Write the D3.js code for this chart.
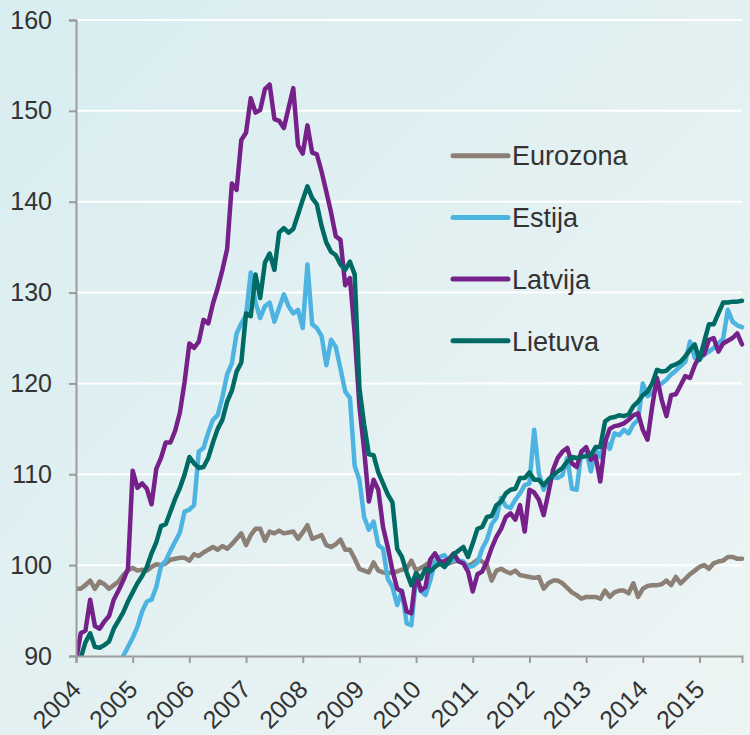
<!DOCTYPE html>
<html>
<head>
<meta charset="utf-8">
<script src="https://cdn.jsdelivr.net/npm/d3@7"></script>
<style>
  body { margin: 0; background: #e6f1f2; }
  svg { display: block; font-family: "Liberation Sans", Arial, sans-serif; }
</style>
</head>
<body>
<div id="chart"></div>
<script>
// monthly index values, first value = January 2004
var startYear = 2004;
var yearTicks = [2004, 2005, 2006, 2007, 2008, 2009, 2010, 2011, 2012, 2013, 2014, 2015];
var valueTicks = [90, 100, 110, 120, 130, 140, 150, 160];
var seriesNames = ["Eurozona", "Estija", "Latvija", "Lietuva"];
var seriesColors = ["#8c7f76", "#4db3e0", "#76218a", "#006a64"];

var eurozona = [
  97.4, 97.4, 97.8, 98.3, 97.4, 98.2, 97.9, 97.4, 97.8, 98.2, 98.9, 99.4,
  99.7, 99.4, 99.5, 99.4, 99.8, 100.1, 100.0, 100.2, 100.6, 100.7, 100.8, 100.8,
  100.5, 101.2, 101.0, 101.4, 101.7, 102.0, 101.7, 102.1, 101.8, 102.3, 102.9, 103.5,
  102.2, 103.3, 104.0, 104.0, 102.7, 103.7, 103.5, 103.8, 103.5, 103.6, 103.7, 102.9,
  103.6, 104.4, 102.9, 103.1, 103.3, 102.2, 102.0, 102.3, 102.8, 101.7, 101.7, 100.7,
  99.6, 99.4, 99.2, 100.3, 99.4, 99.2, 99.1, 99.2, 99.3, 99.5, 99.6, 100.5,
  99.4, 99.7, 100.0, 100.4, 100.2, 100.1, 100.3, 100.2, 100.4, 100.5, 100.3, 99.9,
  100.2, 100.6, 100.4, 100.0, 98.3, 99.4, 99.6, 99.3, 99.1, 99.4, 98.9, 98.8,
  98.7, 98.6, 98.7, 97.4, 98.0, 98.3, 98.3, 98.0, 97.5, 97.0, 96.7, 96.3,
  96.5, 96.5, 96.5, 96.3, 97.2, 96.5, 97.0, 97.2, 97.2, 96.9, 98.0, 96.5,
  97.4, 97.7, 97.8, 97.8, 97.9, 98.3, 97.8, 98.7, 98.0, 98.5, 99.0, 99.4,
  99.8, 100.0, 99.6, 100.2, 100.4, 100.5, 100.9, 100.9, 100.7, 100.7
];

var estija = [
  null, null, null, null, null, null, null, null, null, 89.0, 90.0, 91.0,
  92.0, 93.2, 94.9, 96.0, 96.2, 97.6, 99.9, 100.5, 101.6, 102.6, 103.6, 105.9,
  106.1, 106.6, 112.5, 112.9, 114.6, 116.0, 116.5, 118.5, 121.0, 122.2, 125.5, 126.6,
  127.5, 132.2, 128.9, 127.2, 128.5, 128.9, 126.8, 128.3, 129.8, 128.5, 127.7, 128.1,
  126.1, 133.1, 126.5, 126.1, 125.2, 122.0, 124.8, 124.0, 121.6, 119.1, 118.4, 110.9,
  109.4, 105.3, 103.9, 104.8, 102.2, 101.8, 98.5, 97.6, 95.6, 97.2, 93.6, 93.4,
  98.7, 97.2, 96.7, 98.3, 100.4, 100.9, 101.1, 100.3, 100.6, 100.5, 100.4, 99.8,
  99.9, 100.3, 101.8, 102.8, 104.5, 105.2, 107.4, 106.5, 106.3, 107.2, 107.9, 108.8,
  109.0, 114.9, 110.1, 108.3, 109.4, 109.7, 109.6, 109.9, 111.8, 108.4, 108.3, 112.5,
  112.7, 110.3, 112.7, 111.9, 113.8, 112.8, 114.5, 114.3, 114.9, 114.5, 115.5, 116.0,
  120.0, 118.6, 119.0, 119.6, 120.0, 120.4, 121.0, 121.4, 121.9, 122.4, 124.6, 122.8,
  122.6, 123.2, 123.5, 123.9, 124.4, 124.9, 128.1, 126.8, 126.4, 126.2
];

var latvija = [
  89.5, 92.5, 92.8, 96.2, 93.3, 93.0, 93.8, 94.4, 96.2, 97.2, 98.3, 99.6,
  110.4, 108.5, 109.0, 108.4, 106.7, 110.6, 111.8, 113.5, 113.5, 114.8, 116.8, 120.2,
  124.4, 123.9, 124.6, 127.0, 126.6, 128.8, 130.5, 132.5, 134.8, 142.0, 141.3, 146.8,
  147.6, 151.4, 149.8, 150.1, 152.4, 152.9, 149.1, 148.9, 148.1, 150.3, 152.5, 146.2,
  145.3, 148.4, 145.4, 145.2, 143.3, 141.1, 138.8, 136.2, 135.8, 130.8, 131.6, 125.5,
  117.5, 112.7, 107.0, 109.4, 108.3, 104.2, 102.0, 99.4, 97.4, 97.1, 94.9, 94.7,
  99.1, 97.2, 97.6, 100.6, 101.3, 100.4, 100.4, 100.7, 101.3, 100.4, 100.2, 99.3,
  97.1, 99.0, 99.3, 100.4, 101.9, 103.1, 104.0, 105.3, 105.7, 105.0, 106.6, 103.7,
  108.3, 108.0, 107.2, 105.5, 107.9, 110.5, 111.8, 112.5, 112.9, 111.2, 110.8, 112.5,
  113.0, 111.6, 112.0, 109.2, 113.5, 115.0, 115.3, 115.4, 115.6, 116.0, 116.5, 116.7,
  114.9, 113.8, 117.5, 120.6, 118.2, 116.4, 118.7, 118.8, 119.8, 120.8, 120.6, 122.0,
  123.0, 123.2, 124.8, 125.0, 123.5, 124.4, 124.7, 125.0, 125.5, 124.3
];

var lietuva = [
  88.5, 89.8, 91.5, 92.5, 91.0, 90.9, 91.2, 91.6, 93.0, 93.9, 94.8, 96.0,
  97.0, 98.0, 98.8, 99.8, 101.3, 102.5, 104.3, 104.5, 105.9, 107.3, 108.5, 110.0,
  111.9, 111.2, 110.7, 110.8, 111.8, 113.5, 115.0, 116.0, 118.0, 119.2, 121.3, 122.3,
  127.7, 127.4, 132.0, 129.4, 133.3, 134.3, 132.5, 136.6, 137.1, 136.6, 137.0, 138.6,
  140.2, 141.7, 140.4, 139.7, 137.3, 135.5, 134.5, 134.1, 133.1, 132.5, 133.4, 132.0,
  119.5, 115.5, 112.2, 112.1, 110.2, 109.0, 107.8, 106.9, 101.8, 100.9, 99.2, 97.8,
  99.1, 98.5, 99.6, 99.3, 99.8, 100.2, 99.8, 100.4, 101.2, 101.6, 102.0, 100.9,
  102.4, 104.0, 104.2, 105.3, 105.4, 106.6, 107.0, 107.9, 108.3, 108.4, 109.6, 109.6,
  110.2, 109.4, 109.4, 108.8, 109.4, 109.9, 110.3, 110.7, 111.4, 111.9, 111.8, 111.9,
  112.0, 112.1, 113.0, 113.0, 115.8, 116.2, 116.3, 116.5, 116.4, 116.6, 117.5, 118.0,
  118.7, 119.1, 120.0, 121.5, 121.3, 121.4, 121.9, 122.1, 122.4, 123.0, 123.7, 124.3,
  122.6, 124.6, 126.5, 126.5, 127.7, 128.9, 128.9, 129.0, 129.0, 129.1
];

var allSeries = [eurozona, estija, latvija, lietuva];

var width = 750, height = 735;
var margin = {top: 20, right: 8, bottom: 79, left: 76};

var svg = d3.select("#chart")
  .append("svg")
    .attr("width", width)
    .attr("height", height);

// background
var grad = svg.append("defs").append("linearGradient")
    .attr("id", "bg")
    .attr("x1", "0").attr("y1", "0")
    .attr("x2", "1").attr("y2", "1");
grad.append("stop").attr("offset", "0%").attr("stop-color", "#d8edf0");
grad.append("stop").attr("offset", "100%").attr("stop-color", "#eef4f4");
svg.append("rect")
    .attr("width", width)
    .attr("height", height)
    .attr("fill", "url(#bg)");

var lastMonth = eurozona.length - 1;
var x = d3.scaleLinear()
    .domain([startYear, startYear + lastMonth / 12])
    .range([margin.left, width - margin.right]);
var y = d3.scaleLinear()
    .domain([90, 160])
    .range([height - margin.bottom, margin.top]);

// white gridlines
svg.append("g")
  .selectAll("line")
  .data(valueTicks.slice(1))
  .enter()
  .append("line")
    .attr("x1", x.range()[0])
    .attr("x2", x.range()[1])
    .attr("y1", function(d) { return y(d); })
    .attr("y2", function(d) { return y(d); })
    .attr("stroke", "#ffffff")
    .attr("stroke-width", 2);

svg.append("clipPath")
    .attr("id", "plot")
  .append("rect")
    .attr("x", x.range()[0])
    .attr("y", margin.top - 10)
    .attr("width", x.range()[1] - x.range()[0] + 10)
    .attr("height", y(90) - margin.top + 10);

var line = d3.line()
    .defined(function(d) { return d != null; })
    .x(function(d, i) { return x(startYear + i / 12); })
    .y(function(d) { return y(d); });

svg.append("g")
    .attr("clip-path", "url(#plot)")
  .selectAll("path")
  .data(allSeries)
  .enter()
  .append("path")
    .attr("d", line)
    .attr("fill", "none")
    .attr("stroke", function(d, i) { return seriesColors[i]; })
    .attr("stroke-width", 4.5)
    .attr("stroke-linejoin", "round")
    .attr("stroke-linecap", "round");

// axes
var axisColor = "#9b9b9b";
var yAxis = svg.append("g")
    .attr("transform", "translate(" + x.range()[0] + ",0)")
    .call(d3.axisLeft(y).tickValues(valueTicks).tickSize(7).tickPadding(17));
var xAxis = svg.append("g")
    .attr("transform", "translate(0," + y(90) + ")")
    .call(d3.axisBottom(x).tickValues(yearTicks).tickSize(7).tickFormat(d3.format("d")));

[yAxis, xAxis].forEach(function(a) {
  a.select(".domain").attr("stroke", axisColor).attr("stroke-width", 2);
  a.selectAll(".tick line").attr("stroke", axisColor).attr("stroke-width", 2);
  a.selectAll("text")
    .attr("fill", "#333333")
    .style("font-size", "25px")
    .style("font-family", "'Liberation Sans', Arial, sans-serif");
});

xAxis.selectAll(".tick text")
    .attr("text-anchor", "end")
    .attr("y", 0)
    .attr("dy", 0)
    .attr("transform", "translate(6,35) rotate(-45)");

// legend
var legend = svg.append("g")
  .selectAll("g")
  .data(seriesNames)
  .enter()
  .append("g")
    .attr("transform", function(d, i) { return "translate(453," + (155.7 + i * 61.7) + ")"; });
legend.append("line")
    .attr("x1", 0).attr("x2", 55)
    .attr("stroke", function(d, i) { return seriesColors[i]; })
    .attr("stroke-width", 5)
    .attr("stroke-linecap", "round");
legend.append("text")
    .attr("x", 59)
    .attr("dy", "0.36em")
    .attr("fill", "#333333")
    .style("font-size", "27px")
    .text(function(d) { return d; });
</script>
</body>
</html>
